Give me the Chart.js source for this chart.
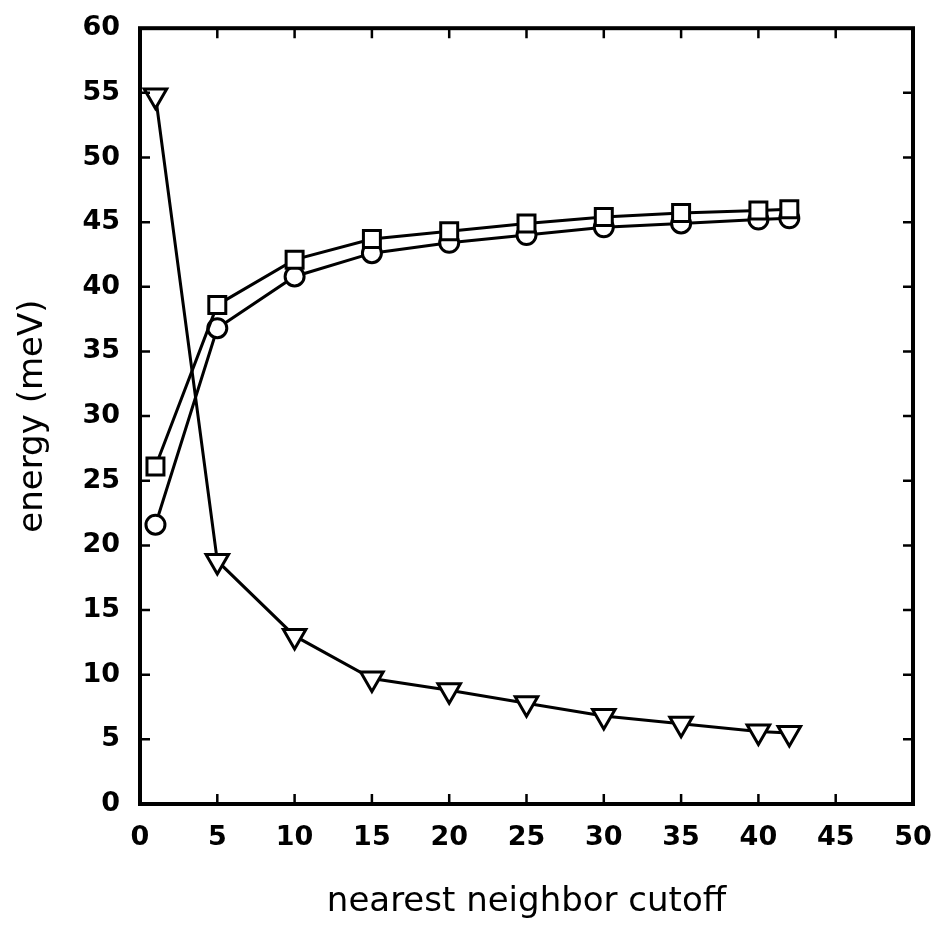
<!DOCTYPE html>
<html>
<head>
<meta charset="utf-8">
<script src="https://cdn.jsdelivr.net/npm/chart.js@4/dist/chart.umd.min.js"></script>
<style>
  html, body { margin: 0; padding: 0; background: #fff; }
  #wrap { width: 935px; height: 926px; }
</style>
</head>
<body>
<div id="wrap"><canvas id="chart"></canvas></div>
<script>
const cutoff = [1, 5, 10, 15, 20, 25, 30, 35, 40, 42]
const squares = [26.1, 38.6, 42.1, 43.7, 44.3, 44.9, 45.4, 45.7, 45.9, 46.0]
const circles = [21.6, 36.8, 40.8, 42.6, 43.4, 44.0, 44.6, 44.9, 45.2, 45.3]
const triangles = [54.8, 18.8, 13.0, 9.7, 8.8, 7.8, 6.8, 6.2, 5.6, 5.5]

const toPoints = (ys) => cutoff.map((x, i) => ({ x: x, y: ys[i] }))

// box round the plot with the small inward ticks on all four sides
const frame = {
  id: 'frame',
  afterDraw(chart) {
    const { ctx, chartArea: a, scales } = chart
    ctx.save()
    ctx.strokeStyle = '#000'
    ctx.lineWidth = 2.5
    scales.x.ticks.forEach(t => {
      if (t.value <= 0 || t.value >= 50) return
      const px = scales.x.getPixelForValue(t.value)
      ctx.beginPath()
      ctx.moveTo(px, a.bottom); ctx.lineTo(px, a.bottom - 10)
      ctx.moveTo(px, a.top); ctx.lineTo(px, a.top + 10)
      ctx.stroke()
    })
    scales.y.ticks.forEach(t => {
      if (t.value <= 0 || t.value >= 60) return
      const py = scales.y.getPixelForValue(t.value)
      ctx.beginPath()
      ctx.moveTo(a.left, py); ctx.lineTo(a.left + 10, py)
      ctx.moveTo(a.right, py); ctx.lineTo(a.right - 10, py)
      ctx.stroke()
    })
    ctx.lineWidth = 4
    ctx.strokeRect(a.left, a.top, a.right - a.left, a.bottom - a.top)
    ctx.restore()
  }
}

const series = (data, style, radius) => ({
  data: toPoints(data),
  borderColor: '#000',
  borderWidth: 3,
  backgroundColor: '#fff',
  pointStyle: style,
  pointRadius: radius,
  pointBorderWidth: 3,
  pointBackgroundColor: '#fff',
  pointBorderColor: '#000',
  pointRotation: style === 'triangle' ? 180 : 0,
  clip: false,
  tension: 0
})

const tickFont = { family: 'DejaVu Sans', size: 27, weight: 'bold' }
const titleFont = { family: 'DejaVu Sans', size: 34 }

new Chart(document.getElementById('chart'), {
  type: 'line',
  data: {
    datasets: [
      series(squares, 'rect', 12),
      series(circles, 'circle', 9.5),
      series(triangles, 'triangle', 13)
    ]
  },
  options: {
    responsive: true,
    maintainAspectRatio: false,
    animation: false,
    layout: { padding: { top: 16, right: 22, left: 0, bottom: 0 } },
    plugins: { legend: { display: false }, tooltip: { enabled: false } },
    scales: {
      x: {
        type: 'linear',
        min: 0, max: 50,
        grid: { display: false },
        border: { display: false },
        ticks: { stepSize: 5, color: '#000', padding: 10, font: tickFont },
        title: {
          display: true, text: 'nearest neighbor cutoff', color: '#000',
          font: titleFont,
          padding: { top: 4, bottom: 3 }
        },
        afterFit: (s) => { s.height = 122; s.paddingLeft = 0; s.paddingRight = 0 }
      },
      y: {
        min: 0, max: 60,
        grid: { display: false },
        border: { display: false },
        ticks: { stepSize: 5, color: '#000', padding: 12, font: tickFont },
        title: {
          display: true, text: 'energy (meV)', color: '#000',
          font: titleFont,
          padding: { top: 13, bottom: 0 }
        },
        afterFit: (s) => { s.width = 140 }
      }
    }
  },
  plugins: [frame]
})
</script>
</body>
</html>
